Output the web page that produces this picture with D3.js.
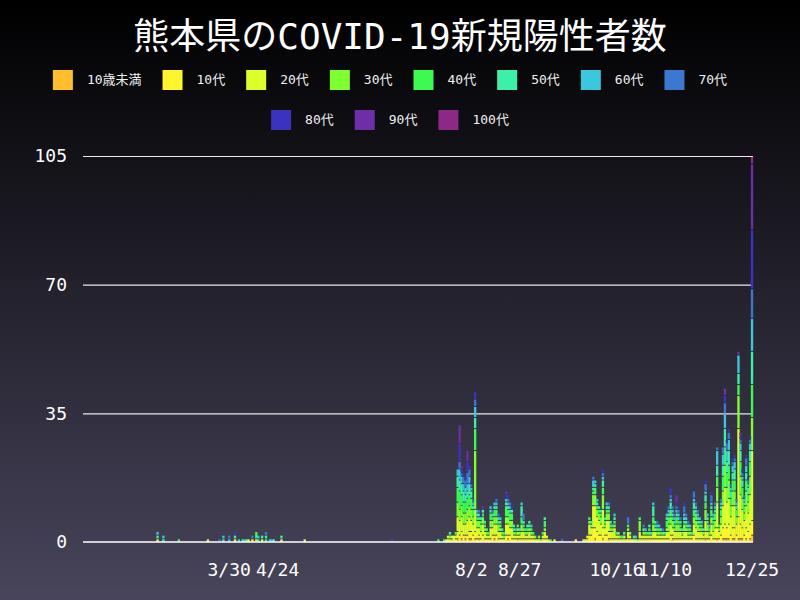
<!DOCTYPE html>
<html><head><meta charset="utf-8">
<script src="https://cdn.jsdelivr.net/npm/d3@7"></script>
<style>html,body{margin:0;padding:0;background:#000;} svg{display:block;}</style>
</head><body>
<svg id="c" width="800" height="600"></svg>
<script>
const ageGroups = ["10歳未満","10代","20代","30代","40代","50代","60代","70代","80代","90代","100代"];
const palette = ["#ffbf2a","#fff52c","#dcff2c","#80ff30","#3cfa52","#3cf0a8","#3cc8dc","#3a78d2","#3c32c0","#6e2ea8","#8c2888"];
const yTicks = [0, 35, 70, 105];
const xTickDates = ["03-30","04-24","08-02","08-27","10-16","11-10","12-25"];
const xTickLabels = ["3/30","4/24","8/2","8/27","10/16","11/10","12/25"];

// dates with cases (2020), and counts per age group in ageGroups order
const dates = [
"02-22","02-25","03-04","03-19","03-25","03-27","03-30","04-02","04-04","04-06","04-07","04-08","04-09","04-11","04-13","04-14","04-16","04-18","04-20","04-21","04-22","04-26","05-08","06-22",
"07-16","07-19","07-20","07-21","07-22","07-23","07-24","07-25","07-26","07-27","07-28","07-29","07-30","07-31",
"08-01","08-02","08-03","08-04","08-05","08-06","08-07","08-08","08-09","08-10","08-11","08-12","08-13","08-14","08-15","08-16","08-17","08-18","08-19","08-20","08-21","08-22","08-23","08-24","08-25","08-26","08-27","08-28","08-29","08-30","08-31",
"09-01","09-02","09-03","09-04","09-05","09-06","09-07","09-08","09-09","09-10","09-11","09-12","09-14","09-18","09-25","09-29","09-30",
"10-01","10-02","10-03","10-04","10-05","10-06","10-07","10-08","10-09","10-10","10-11","10-12","10-13","10-14","10-15","10-16","10-17","10-18","10-19","10-20","10-21","10-22","10-23","10-24","10-25","10-26","10-27","10-28","10-29","10-30","10-31",
"11-01","11-02","11-03","11-04","11-05","11-06","11-07","11-08","11-09","11-10","11-11","11-12","11-13","11-14","11-15","11-16","11-17","11-18","11-19","11-20","11-21","11-22","11-23","11-24","11-25","11-26","11-27","11-28","11-29","11-30",
"12-01","12-02","12-03","12-04","12-05","12-06","12-07","12-08","12-09","12-10","12-11","12-12","12-13","12-14","12-15","12-16","12-17","12-18","12-19","12-20","12-21","12-22","12-23","12-24","12-25"
];
const counts = [
[0,0,1,0,0,1,1,0,0,0,0],[0,0,0,0,0,1,1,0,0,0,0],[0,0,0,0,1,0,0,0,0,0,0],[0,0,1,0,0,0,0,0,0,0,0],[0,0,0,0,0,0,0,1,0,0,0],[0,0,0,0,0,1,1,0,0,0,0],[0,0,0,0,0,0,1,1,0,0,0],[0,0,1,0,0,1,0,0,1,0,0],[0,0,0,0,0,0,1,0,0,0,0],[0,0,0,0,0,1,0,0,0,0,0],[0,0,0,0,0,0,1,0,0,0,0],[0,0,0,1,0,0,0,0,0,0,0],[0,0,1,0,0,0,0,0,0,0,0],[0,1,0,0,0,0,0,1,0,0,0],[0,0,1,0,2,0,0,0,0,0,0],[0,0,0,0,0,1,1,0,0,0,0],[0,0,1,0,0,1,0,0,0,0,0],[0,0,0,0,1,1,0,1,0,0,0],[0,0,0,0,0,0,1,0,0,0,0],[0,0,0,0,0,0,1,0,0,0,0],[0,0,0,0,0,1,0,0,0,0,0],[0,0,1,0,0,1,0,0,0,0,0],[0,1,0,0,0,0,0,0,0,0,0],[0,0,0,0,0,0,0,0,0,1,0],
[0,0,0,0,1,0,0,0,0,0,0],[0,0,0,0,1,0,0,0,0,0,0],[0,0,1,0,0,0,0,0,0,0,0],[0,1,1,0,0,0,0,0,0,0,0],[0,0,1,1,0,1,0,0,0,0,0],[1,0,1,0,0,0,0,0,0,0,0],[0,0,2,0,0,0,0,0,0,0,0],[0,1,1,0,1,0,0,0,0,0,0],[1,2,4,4,4,3,2,0,0,0,0],[0,2,4,3,5,3,3,2,5,5,0],[1,2,4,3,3,3,2,1,1,1,0],[0,2,3,3,3,3,2,2,1,0,0],[1,1,3,3,3,2,2,2,1,0,0],[0,2,4,3,3,2,2,3,3,3,0],
[1,2,4,3,3,3,2,2,1,0,0],[1,2,3,3,3,2,1,1,1,0,0],[0,2,3,2,2,1,1,1,0,0,0],[1,2,6,16,6,3,3,2,2,0,0],[0,1,3,2,1,1,1,0,0,0,0],[1,1,2,2,1,1,0,1,0,0,0],[0,1,2,2,1,1,0,0,1,0,0],[0,2,3,2,1,1,0,0,0,1,0],[0,1,2,1,1,1,0,0,0,0,0],[0,1,1,1,1,0,0,0,0,0,0],[0,1,1,0,1,0,0,0,0,0,0],[0,1,3,2,2,1,1,0,0,0,0],[0,2,2,2,1,1,0,1,0,0,0],[1,1,3,2,2,1,1,0,0,0,0],[0,2,3,2,2,1,1,1,0,0,0],[0,1,2,2,1,1,0,1,0,0,0],[0,1,2,1,1,1,1,0,0,0,0],[0,1,1,1,0,1,0,0,0,0,0],[0,0,1,1,1,0,0,0,0,0,0],[0,2,3,2,3,1,1,0,1,1,0],[1,1,3,2,2,1,1,1,1,0,0],[0,2,2,2,2,1,1,1,0,0,0],[0,1,3,2,2,1,0,0,1,0,0],[0,1,1,1,1,1,0,0,0,0,0],[0,1,1,0,1,0,1,0,0,0,0],[1,1,1,1,1,0,0,0,0,0,0],[0,1,1,1,0,1,0,0,0,0,0],[0,1,2,2,2,3,1,0,0,0,0],[0,1,2,1,1,1,0,2,0,0,0],[0,1,1,1,1,0,0,0,0,0,0],[0,1,1,1,1,1,0,0,0,0,0],
[0,1,2,1,1,1,0,0,0,0,0],[0,1,1,1,1,0,1,0,0,0,0],[0,1,1,0,1,0,0,0,0,0,0],[0,0,1,1,0,0,0,0,0,0,0],[0,0,1,0,0,0,0,0,0,0,0],[0,1,0,1,0,0,0,0,0,0,0],[0,0,0,1,0,0,0,0,0,0,0],[0,1,1,0,1,0,0,0,0,0,0],[0,1,2,1,2,1,0,0,0,0,0],[0,1,1,0,0,0,0,0,0,0,0],[0,0,1,0,0,0,0,0,0,0,0],[0,0,0,0,1,0,0,0,0,0,0],[0,0,1,0,0,0,0,0,0,0,0],[0,0,0,0,0,0,0,1,0,0,0],[0,1,0,0,0,0,0,0,0,0,0],[0,0,1,0,0,0,0,0,0,0,0],[0,1,0,0,0,0,0,0,0,0,0],
[0,1,1,0,0,0,0,0,0,0,0],[0,2,3,1,1,0,0,0,0,0,0],[0,2,2,1,0,1,0,0,0,0,0],[0,4,6,3,1,1,2,1,0,0,0],[1,3,6,3,2,1,1,0,0,0,0],[0,3,4,2,1,1,1,0,0,0,0],[0,2,4,2,1,1,0,0,0,0,0],[0,2,3,2,1,1,0,0,0,0,0],[1,3,5,4,2,2,1,1,1,0,0],[0,2,2,1,1,1,0,0,0,0,0],[0,2,4,2,1,1,1,0,0,0,0],[1,2,3,2,1,1,0,1,0,0,0],[0,1,2,1,1,1,0,0,0,0,0],[0,1,2,1,0,1,0,0,0,0,0],[0,1,3,1,1,1,1,0,0,0,0],[0,1,1,0,1,0,0,0,0,0,0],[0,1,1,1,0,0,0,0,0,0,0],[0,0,1,1,0,0,0,0,0,0,0],[0,1,0,0,1,0,0,0,0,0,0],[0,1,1,0,0,1,0,0,0,0,0],[0,0,1,0,0,0,0,0,0,0,0],[0,1,2,1,1,0,0,2,0,0,0],[0,1,1,1,0,0,0,0,0,0,0],[0,0,1,0,0,0,0,0,0,0,0],[0,1,0,0,0,1,0,0,0,0,0],[0,0,1,0,0,0,1,0,0,0,0],[0,0,0,1,0,0,0,0,0,0,0],[0,1,2,3,1,0,0,0,0,0,0],[0,1,1,0,0,0,0,0,0,0,0],[0,1,1,1,0,1,0,1,0,0,0],[0,1,1,1,0,0,1,0,0,0,0],
[0,1,1,0,1,0,0,0,0,0,0],[0,1,1,1,1,1,0,0,0,0,0],[0,1,1,0,0,1,0,0,0,0,0],[0,1,2,2,2,3,1,0,0,0,0],[0,1,2,1,1,1,0,0,0,0,0],[0,1,1,1,1,0,1,1,0,0,0],[0,1,1,1,1,0,1,0,0,0,0],[0,1,1,0,1,1,0,0,0,0,0],[0,1,1,1,0,0,0,1,0,0,0],[0,1,1,0,0,1,0,0,0,0,0],[0,1,2,1,2,1,1,0,0,0,0],[0,1,2,2,2,1,1,1,0,0,0],[0,2,3,2,2,2,1,1,2,0,0],[1,1,2,2,1,1,1,1,0,0,0],[0,1,2,1,1,1,1,1,0,0,0],[0,1,2,2,2,1,1,1,1,2,0],[0,1,2,2,1,1,1,1,0,0,0],[0,1,2,1,1,1,0,1,0,0,0],[0,1,1,1,0,1,0,0,0,0,0],[0,1,2,2,1,1,1,2,1,0,0],[0,1,2,1,1,1,1,1,0,0,0],[0,1,1,1,1,1,0,1,0,0,0],[0,1,1,1,1,0,1,0,0,0,0],[0,1,1,0,0,1,0,0,0,0,0],[0,2,3,2,2,2,1,2,0,0,0],[0,1,3,2,2,1,1,1,0,0,0],[0,1,2,2,1,1,1,1,0,0,0],[0,1,2,1,1,1,1,0,0,0,0],[0,1,2,1,1,0,1,0,0,0,0],[0,1,1,1,0,1,0,0,0,0,0],
[1,2,3,3,2,2,1,2,1,0,0],[0,1,2,2,1,1,1,0,0,0,0],[0,1,1,1,1,0,1,0,0,0,0],[0,2,3,2,2,1,1,2,1,0,0],[0,1,2,2,1,1,1,0,0,0,0],[0,1,3,2,2,1,1,1,0,0,0],[1,3,7,4,3,3,4,1,0,0,0],[0,1,2,1,1,0,0,0,0,0,0],[0,2,3,2,2,1,1,1,0,0,0],[1,3,6,4,4,3,3,2,0,0,0],[1,4,10,6,5,5,4,3,2,2,0],[1,3,7,4,4,3,3,2,1,0,0],[1,4,7,5,4,4,3,2,1,0,0],[0,2,5,3,2,2,1,1,0,0,0],[1,3,6,4,3,2,2,1,1,0,0],[1,3,6,4,3,3,2,1,1,0,0],[0,2,3,2,2,1,1,1,0,0,0],[1,6,24,9,3,3,5,0,0,1,0],[1,4,8,5,4,3,2,1,1,1,0],[1,3,5,3,3,2,1,1,1,0,0],[0,2,4,2,2,1,1,1,0,0,0],[1,3,6,4,3,2,2,2,1,0,0],[0,3,5,3,2,2,1,1,1,0,0],[1,4,8,5,4,3,2,1,1,0,0],[2,4,19,9,9,9,9,8,16,18,2]
];

const W = 800, H = 600;
const svg = d3.select("#c");
const defs = svg.append("defs");
const grad = defs.append("linearGradient").attr("id","bg").attr("x1",0).attr("y1",0).attr("x2",0).attr("y2",1);
grad.append("stop").attr("offset","0%").attr("stop-color","#000000");
grad.append("stop").attr("offset","100%").attr("stop-color","#48455c");
svg.append("rect").attr("width",W).attr("height",H).attr("fill","url(#bg)");

const mono = "'DejaVu Sans Mono','Noto Sans CJK JP',monospace";

// title
svg.append("text").attr("x",400).attr("y",39).attr("text-anchor","middle").attr("dominant-baseline","middle")
  .attr("fill","#ffffff").attr("font-family",mono).attr("font-size",36).text("熊本県のCOVID-19新規陽性者数");

// legend (items sized by their label width, rows centred)
const legendRows = [{y:80, items:[0,1,2,3,4,5,6,7]},{y:120, items:[8,9,10]}];
const legendCenter = 390, swatch = 20, labelGap = 14, itemGap = 21;
legendRows.forEach(r => {
  const gs = r.items.map(k => {
    const g = svg.append("g");
    g.append("rect").attr("x",0).attr("y",-10).attr("width",swatch).attr("height",swatch).attr("fill",palette[k]);
    const t = g.append("text").attr("x",swatch+labelGap).attr("y",0).attr("dominant-baseline","middle").attr("fill","#f0f0f0")
      .attr("font-family",mono).attr("font-size",13).text(ageGroups[k]);
    return {g, w: swatch + labelGap + t.node().getComputedTextLength()};
  });
  const total = d3.sum(gs, d => d.w) + itemGap*(gs.length-1);
  let cx = legendCenter - total/2;
  gs.forEach(d => { d.g.attr("transform",`translate(${cx},${r.y})`); cx += d.w + itemGap; });
});

// data rows for every day
const fmt = d3.timeFormat("%m-%d");
const allDays = d3.timeDay.range(new Date(2020,0,15), new Date(2020,11,26)).map(fmt);
const rows = allDays.map(k => {
  const o = {date:k};
  const idx = dates.indexOf(k);
  ageGroups.forEach((g,j) => { o[g] = idx >= 0 ? counts[idx][j] : 0; });
  return o;
});

const x = d3.scaleBand().domain(allDays).range([83,753]).padding(0);
const y = d3.scaleLinear().domain([0,105]).range([542,156]);

// gridlines
svg.append("g").attr("transform","translate(83,0)")
  .call(d3.axisLeft(y).tickValues(yTicks.filter(v=>v>0)).tickSize(-670).tickFormat(""))
  .call(g => g.select(".domain").remove())
  .call(g => g.selectAll("line").attr("stroke","#e8e8e8").attr("stroke-width",1.2));

// bars
const stack = d3.stack().keys(ageGroups);
const series = stack(rows);
svg.append("g").selectAll("g").data(series).join("g")
  .attr("fill",(d,i)=>palette[i])
  .selectAll("rect").data(d => d.filter(p => p[1] > p[0]))
  .join("rect")
  .attr("x", d => x(d.data.date) - 0.2)
  .attr("width", x.bandwidth() + 0.4)
  .attr("y", d => y(d[1]) + 1)
  .attr("height", d => Math.max(0.5, y(d[0]) - y(d[1]) - 1));

// zero line
svg.append("line").attr("x1",83).attr("x2",753).attr("y1",y(0)).attr("y2",y(0))
  .attr("stroke","#ffffff").attr("stroke-width",1.5);

// y axis labels
svg.append("g").attr("transform","translate(83,0)")
  .call(d3.axisLeft(y).tickValues(yTicks).tickSize(0).tickPadding(16))
  .call(g => g.select(".domain").remove())
  .call(g => g.selectAll("text").attr("fill","#ffffff").attr("font-family",mono).attr("font-size",18));

// x axis labels
svg.append("g").attr("transform","translate(0,542)")
  .call(d3.axisBottom(x).tickValues(xTickDates).tickSize(0).tickPadding(21)
        .tickFormat(d => xTickLabels[xTickDates.indexOf(d)]))
  .call(g => g.select(".domain").remove())
  .call(g => g.selectAll("text").attr("fill","#ffffff").attr("font-family",mono).attr("font-size",18));
</script>
</body></html>
